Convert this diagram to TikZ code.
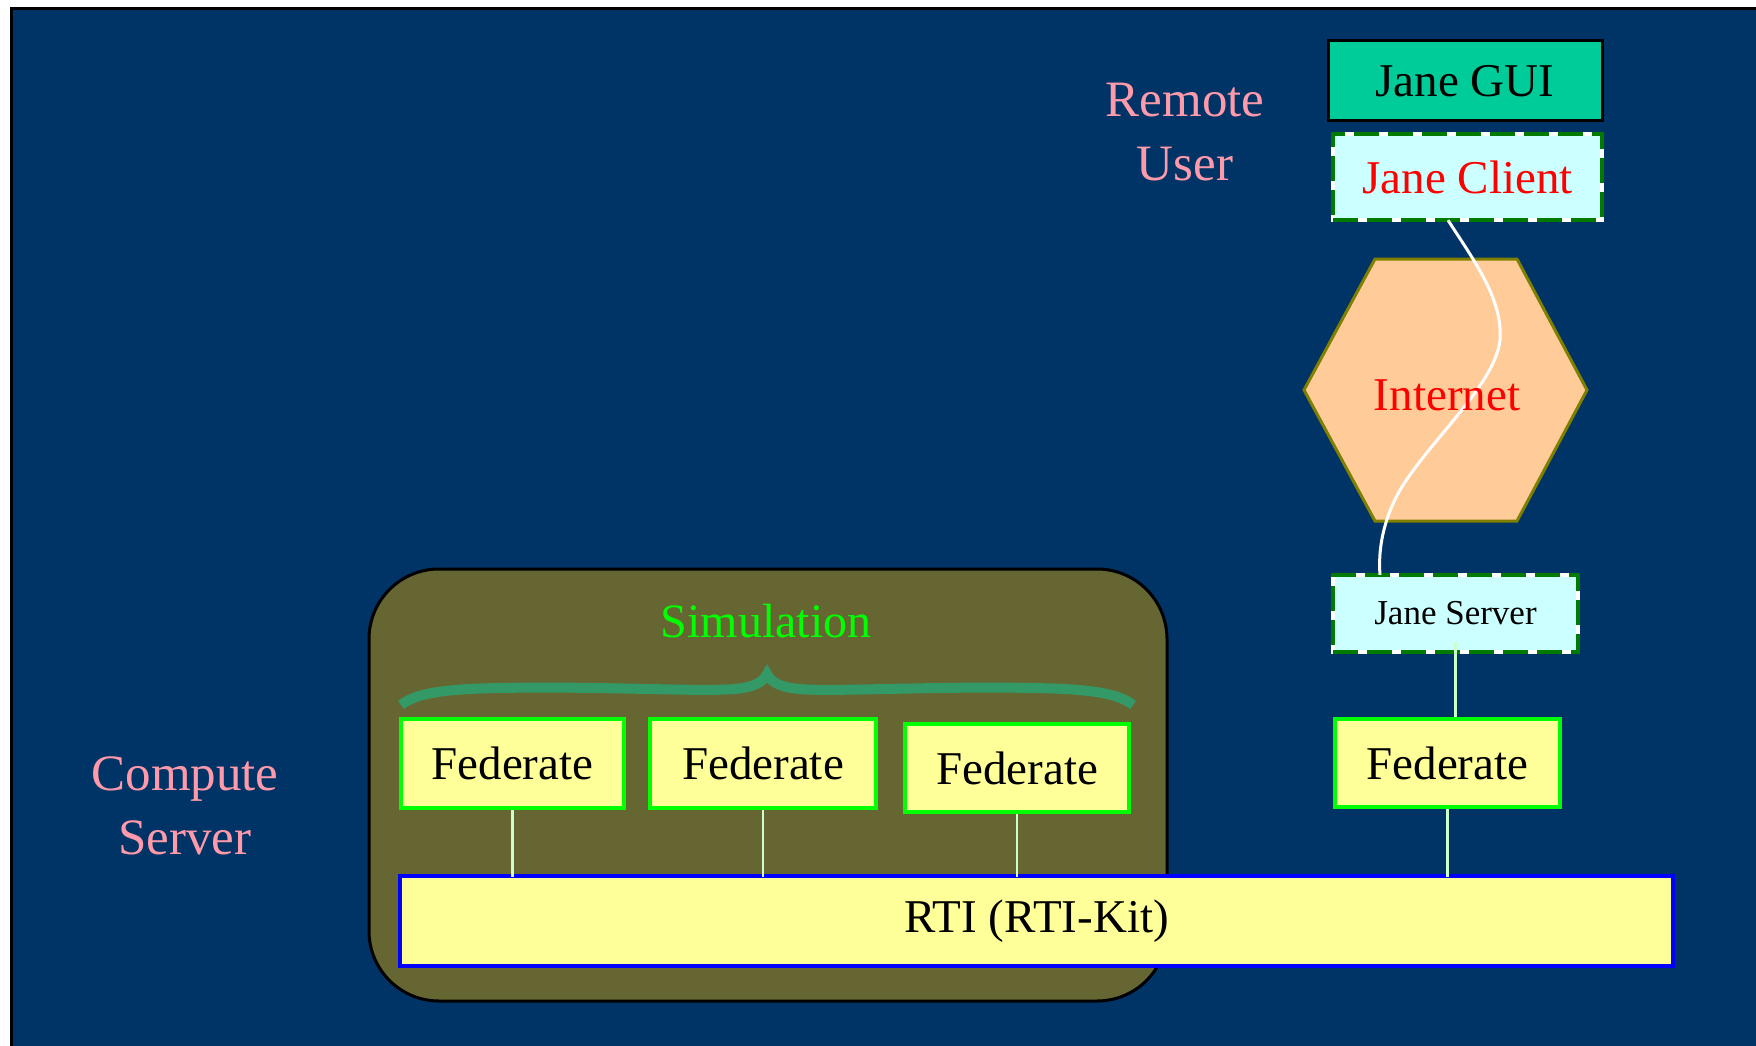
\documentclass[tikz,border=0pt]{standalone}
\usepackage{fontspec}
\setmainfont{Liberation Serif}
\usetikzlibrary{calc}

\definecolor{bgblue}{HTML}{003366}
\definecolor{labelpink}{HTML}{FF9AAA}
\definecolor{guiteal}{HTML}{00CC99}
\definecolor{clientcyan}{HTML}{CCFFFF}
\definecolor{dashgreen}{HTML}{007A00}
\definecolor{netpeach}{HTML}{FFCC99}
\definecolor{netolive}{HTML}{808000}
\definecolor{simolive}{HTML}{666633}
\definecolor{bracegreen}{HTML}{339966}
\definecolor{brightgreen}{HTML}{00FF00}
\definecolor{fedyellow}{HTML}{FFFF99}
\definecolor{linkgreen}{HTML}{CCFFCC}

\tikzset{
  bigfont/.style={font=\fontsize{47}{56}\selectfont},
  sidelabel/.style={font=\fontsize{51}{60}\selectfont, text=labelpink, inner sep=0pt, anchor=base},
  guibox/.style={draw=black, line width=3pt, fill=guiteal, inner sep=0pt, bigfont},
  janebox/.style={fill=clientcyan, inner sep=0pt,
    postaction={draw=white, line width=3.5pt},
    postaction={draw=dashgreen, line width=3.5pt, dash pattern=on 25pt off 9pt}},
  fedbox/.style={draw=brightgreen, line width=4pt, fill=fedyellow, inner sep=0pt, bigfont},
  rtibox/.style={draw=blue, line width=4pt, fill=fedyellow, inner sep=0pt, bigfont},
  simbox/.style={draw=black, line width=3pt, fill=simolive, rounded corners=70pt, inner sep=0pt},
  link/.style={draw=linkgreen, line width=2.5pt},
  netlink/.style={draw=white, line width=3pt},
  bracestroke/.style={draw=bracegreen, line width=10pt, line cap=butt},
}

\begin{document}
\begin{tikzpicture}[x=1pt, y=-1pt]
  \useasboundingbox (0,0) rectangle (1756,1046);
  \fill[white] (0,0) rectangle (1756,1046);
  % slide area
  \draw[line width=3pt, fill=bgblue] (11,9) rectangle (1775,1065);

  % side labels
  \node[sidelabel] (remote) at (1185,117) {Remote};
  \node[sidelabel] (user) at (1185,180) {User};
  \node[sidelabel] (compute) at (185,790) {Compute};
  \node[sidelabel] (server) at (185,854) {Server};

  % simulation container
  \node[simbox, minimum width=798pt, minimum height=432pt] (sim) at (768,785) {};
  \node[font=\fontsize{48}{56}\selectfont, text=brightgreen, inner sep=0pt, anchor=base] (simtitle) at (766,637) {Simulation};

  % curly brace over the simulation federates
  \coordinate (braceL) at (401,705);
  \coordinate (braceTip) at (767,674);
  \coordinate (braceR) at (1133,705);
  \draw[bracestroke] (braceL) .. controls (415,694) and (440,689) .. (500,688)
        .. controls (600,686) and (700,692) .. (735,689)
        .. controls (755,687) and (763,682) .. (braceTip)
        .. controls (771,682) and (779,687) .. (799,689)
        .. controls (834,692) and (934,686) .. (1034,688)
        .. controls (1094,689) and (1119,694) .. (braceR);

  % federates
  \node[fedbox, minimum width=223pt, minimum height=89pt] (f1) at (512.5,763.5) {Federate};
  \node[fedbox, minimum width=226pt, minimum height=89pt] (f2) at (763,763.5) {Federate};
  \node[fedbox, minimum width=224pt, minimum height=88pt] (f3) at (1017,768) {Federate};
  \node[fedbox, minimum width=225pt, minimum height=88pt] (fr) at (1447.5,763) {Federate};

  % runtime infrastructure
  \node[rtibox, minimum width=1273pt, minimum height=90pt] (rti) at (1036.5,921) {RTI (RTI-Kit)};

  \draw[link] (f1.south) -- ([yshift=-3pt]f1.south |- rti.north);
  \draw[link] (f2.south) -- ([yshift=-3pt]f2.south |- rti.north);
  \draw[link] (f3.south) -- ([yshift=-3pt]f3.south |- rti.north);
  \draw[link] (fr.south) -- ([yshift=-3pt]fr.south |- rti.north);

  % remote side
  \node[guibox, minimum width=274pt, minimum height=80pt] (gui) at (1465,81) {Jane GUI};
  \node[janebox, minimum width=269pt, minimum height=86pt, bigfont, text=red] (client) at (1467.5,177) {Jane Client};
  \node[janebox, minimum width=245pt, minimum height=77pt, font=\fontsize{35}{42}\selectfont] (jserver) at (1455.5,613.5) {Jane Server};

  \draw[link, shorten <=-10pt] (jserver.south) -- (jserver.south |- fr.north);

  % internet cloud
  \coordinate (h1) at (1304,390);
  \coordinate (h2) at (1375,259);
  \coordinate (h3) at (1517,259);
  \coordinate (h4) at (1587,390);
  \coordinate (h5) at (1517,521);
  \coordinate (h6) at (1375,521);
  \draw[netolive, line width=3pt, fill=netpeach, line join=miter] (h1) -- (h2) -- (h3) -- (h4) -- (h5) -- (h6) -- cycle;

  \coordinate (cstart) at (client.south -| 1448,0);
  \coordinate (cend) at (jserver.north -| 1380,0);
  \draw[netlink] (cstart) .. controls (1475,262) and (1503,300) .. (1500,340)
                 .. controls (1495,385) and (1430,440) .. (1400,490)
                 .. controls (1383,520) and (1378,550) .. (cend);

  \node[bigfont, text=red, inner sep=0pt, anchor=base] (net) at (1447,410) {Internet};
\end{tikzpicture}
\end{document}
